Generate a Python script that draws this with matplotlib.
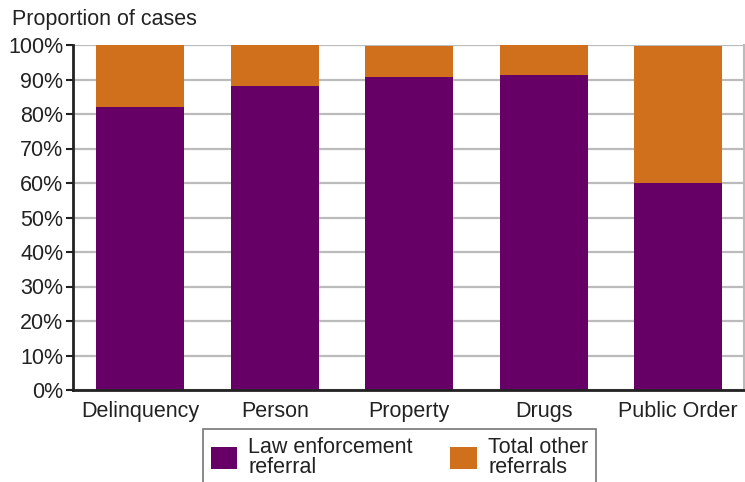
import matplotlib
matplotlib.use("Agg")
import matplotlib.pyplot as plt
from matplotlib.ticker import PercentFormatter

plt.rcParams['font.family'] = ['Liberation Sans', 'DejaVu Sans']

# data (percent of cases)
categories = ["Delinquency", "Person", "Property", "Drugs", "Public Order"]
law_enforcement = [82.1, 88.2, 90.7, 91.4, 60.0]
other_referrals = [17.9, 11.8, 9.0, 8.6, 39.7]

purple = "#660066"
orange = "#D0701C"
text_color = "#222222"
fsize = 15.5

fig = plt.figure(figsize=(7.45, 4.82), dpi=100)
ax = fig.add_axes([73 / 745, 1 - 390 / 482, (744 - 73) / 745, (390 - 45) / 482])

x = list(range(len(categories)))
ax.bar(x, law_enforcement, width=0.655, color=purple, label="Law enforcement\nreferral", zorder=3)
ax.bar(x, other_referrals, width=0.655, bottom=law_enforcement, color=orange,
       label="Total other\nreferrals", zorder=3)

# axes styling
ax.set_xlim(-0.5, 4.49)
ax.set_ylim(0, 100)
ax.set_yticks(range(0, 101, 10))
ax.yaxis.set_major_formatter(PercentFormatter(decimals=0))
ax.set_xticks(x)
ax.set_xticklabels(categories)
ax.tick_params(axis="y", length=5, width=1.5, color="#222222", labelsize=fsize,
               labelcolor=text_color, pad=2)
ax.tick_params(axis="x", length=0, labelsize=fsize, labelcolor=text_color, pad=8)
ax.grid(axis="y", color="#bbbbbb", linewidth=1.6, zorder=0)

ax.spines["top"].set_visible(False)
ax.spines["right"].set_color("#bbbbbb")
ax.spines["right"].set_linewidth(1.5)
ax.spines["left"].set_color("#222222")
ax.spines["left"].set_linewidth(2)
ax.spines["bottom"].set_color("#222222")
ax.spines["bottom"].set_linewidth(2)
ax.spines["bottom"].set_zorder(4)

fig.text(12 / 745, 1 - 9 / 482, "Proportion of cases", fontsize=fsize,
         color=text_color, ha="left", va="top")

#legend
leg = fig.legend(loc="upper left", bbox_to_anchor=(203 / 745, 1 - 429 / 482),
                 ncol=2, fontsize=fsize, frameon=True, fancybox=False,
                 borderaxespad=0, borderpad=0.35, handlelength=1.25,
                 handleheight=1.25, handletextpad=0.5, columnspacing=1.75,
                 labelspacing=0.2)
leg.get_frame().set_edgecolor("#555555")
leg.get_frame().set_linewidth(1.2)
for t in leg.get_texts():
    t.set_color(text_color)
    t.set_linespacing(0.95)

fig.savefig("out.png", dpi=100)
